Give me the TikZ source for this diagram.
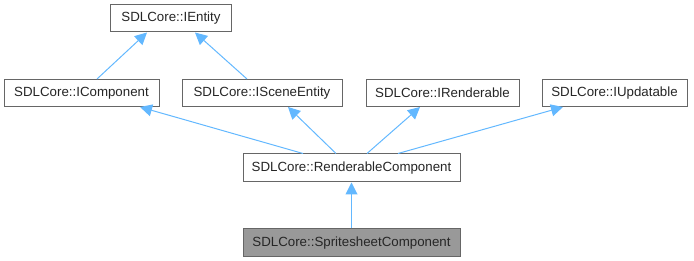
\documentclass[tikz,border=0pt]{standalone}
\usepackage{fontspec}
\setmainfont{Liberation Sans}
\usetikzlibrary{arrows.meta}
\definecolor{edgeblue}{HTML}{63B8FF}
\definecolor{boxline}{HTML}{666666}
\definecolor{boxgray}{HTML}{999999}
\begin{document}
\begin{tikzpicture}[x=1pt,y=-1pt,
  cls/.style={draw=boxline,line width=1pt,fill=white,minimum height=27pt,
    inner sep=0pt,font=\fontsize{13.3pt}{15pt}\selectfont,text=black!85},
  inherit/.style={draw=edgeblue,line width=1pt,
    -{Triangle[length=12pt,width=12pt,fill=edgeblue]}}]
\useasboundingbox (0,0) rectangle (694,261);
% base classes
\node[cls,minimum width=121pt] (ient) at (171,18.5) {SDLCore::IEntity};
\node[cls,minimum width=155pt] (icomp) at (81.5,93) {SDLCore::IComponent};
\node[cls,minimum width=160pt] (iscene) at (262,93) {SDLCore::ISceneEntity};
\node[cls,minimum width=153pt] (irend) at (442.5,93) {SDLCore::IRenderable};
\node[cls,minimum width=145pt] (iupd) at (614.5,93) {SDLCore::IUpdatable};
% derived classes
\node[cls,minimum width=217pt,minimum height=28pt] (rcomp) at (351.5,168) {SDLCore::RenderableComponent};
\node[cls,minimum width=217pt,minimum height=28pt,fill=boxgray] (ssc) at (351.5,243) {SDLCore::SpritesheetComponent};
% inheritance edges
\draw[inherit] ([xshift=15.5pt]icomp.north) -- ([xshift=-24pt]ient.south);
\draw[inherit] ([xshift=-15pt]iscene.north) -- ([xshift=24pt]ient.south);
\draw[inherit] ([xshift=-48.5pt]rcomp.north) -- ([xshift=58.5pt]icomp.south);
\draw[inherit] ([xshift=-15.5pt]rcomp.north) -- ([xshift=26pt]iscene.south);
\draw[inherit] ([xshift=15.5pt]rcomp.north) -- ([xshift=-22.5pt]irend.south);
\draw[inherit] ([xshift=46.5pt]rcomp.north) -- ([xshift=-51.5pt]iupd.south);
\draw[inherit] (ssc.north) -- (rcomp.south);
\end{tikzpicture}
\end{document}
